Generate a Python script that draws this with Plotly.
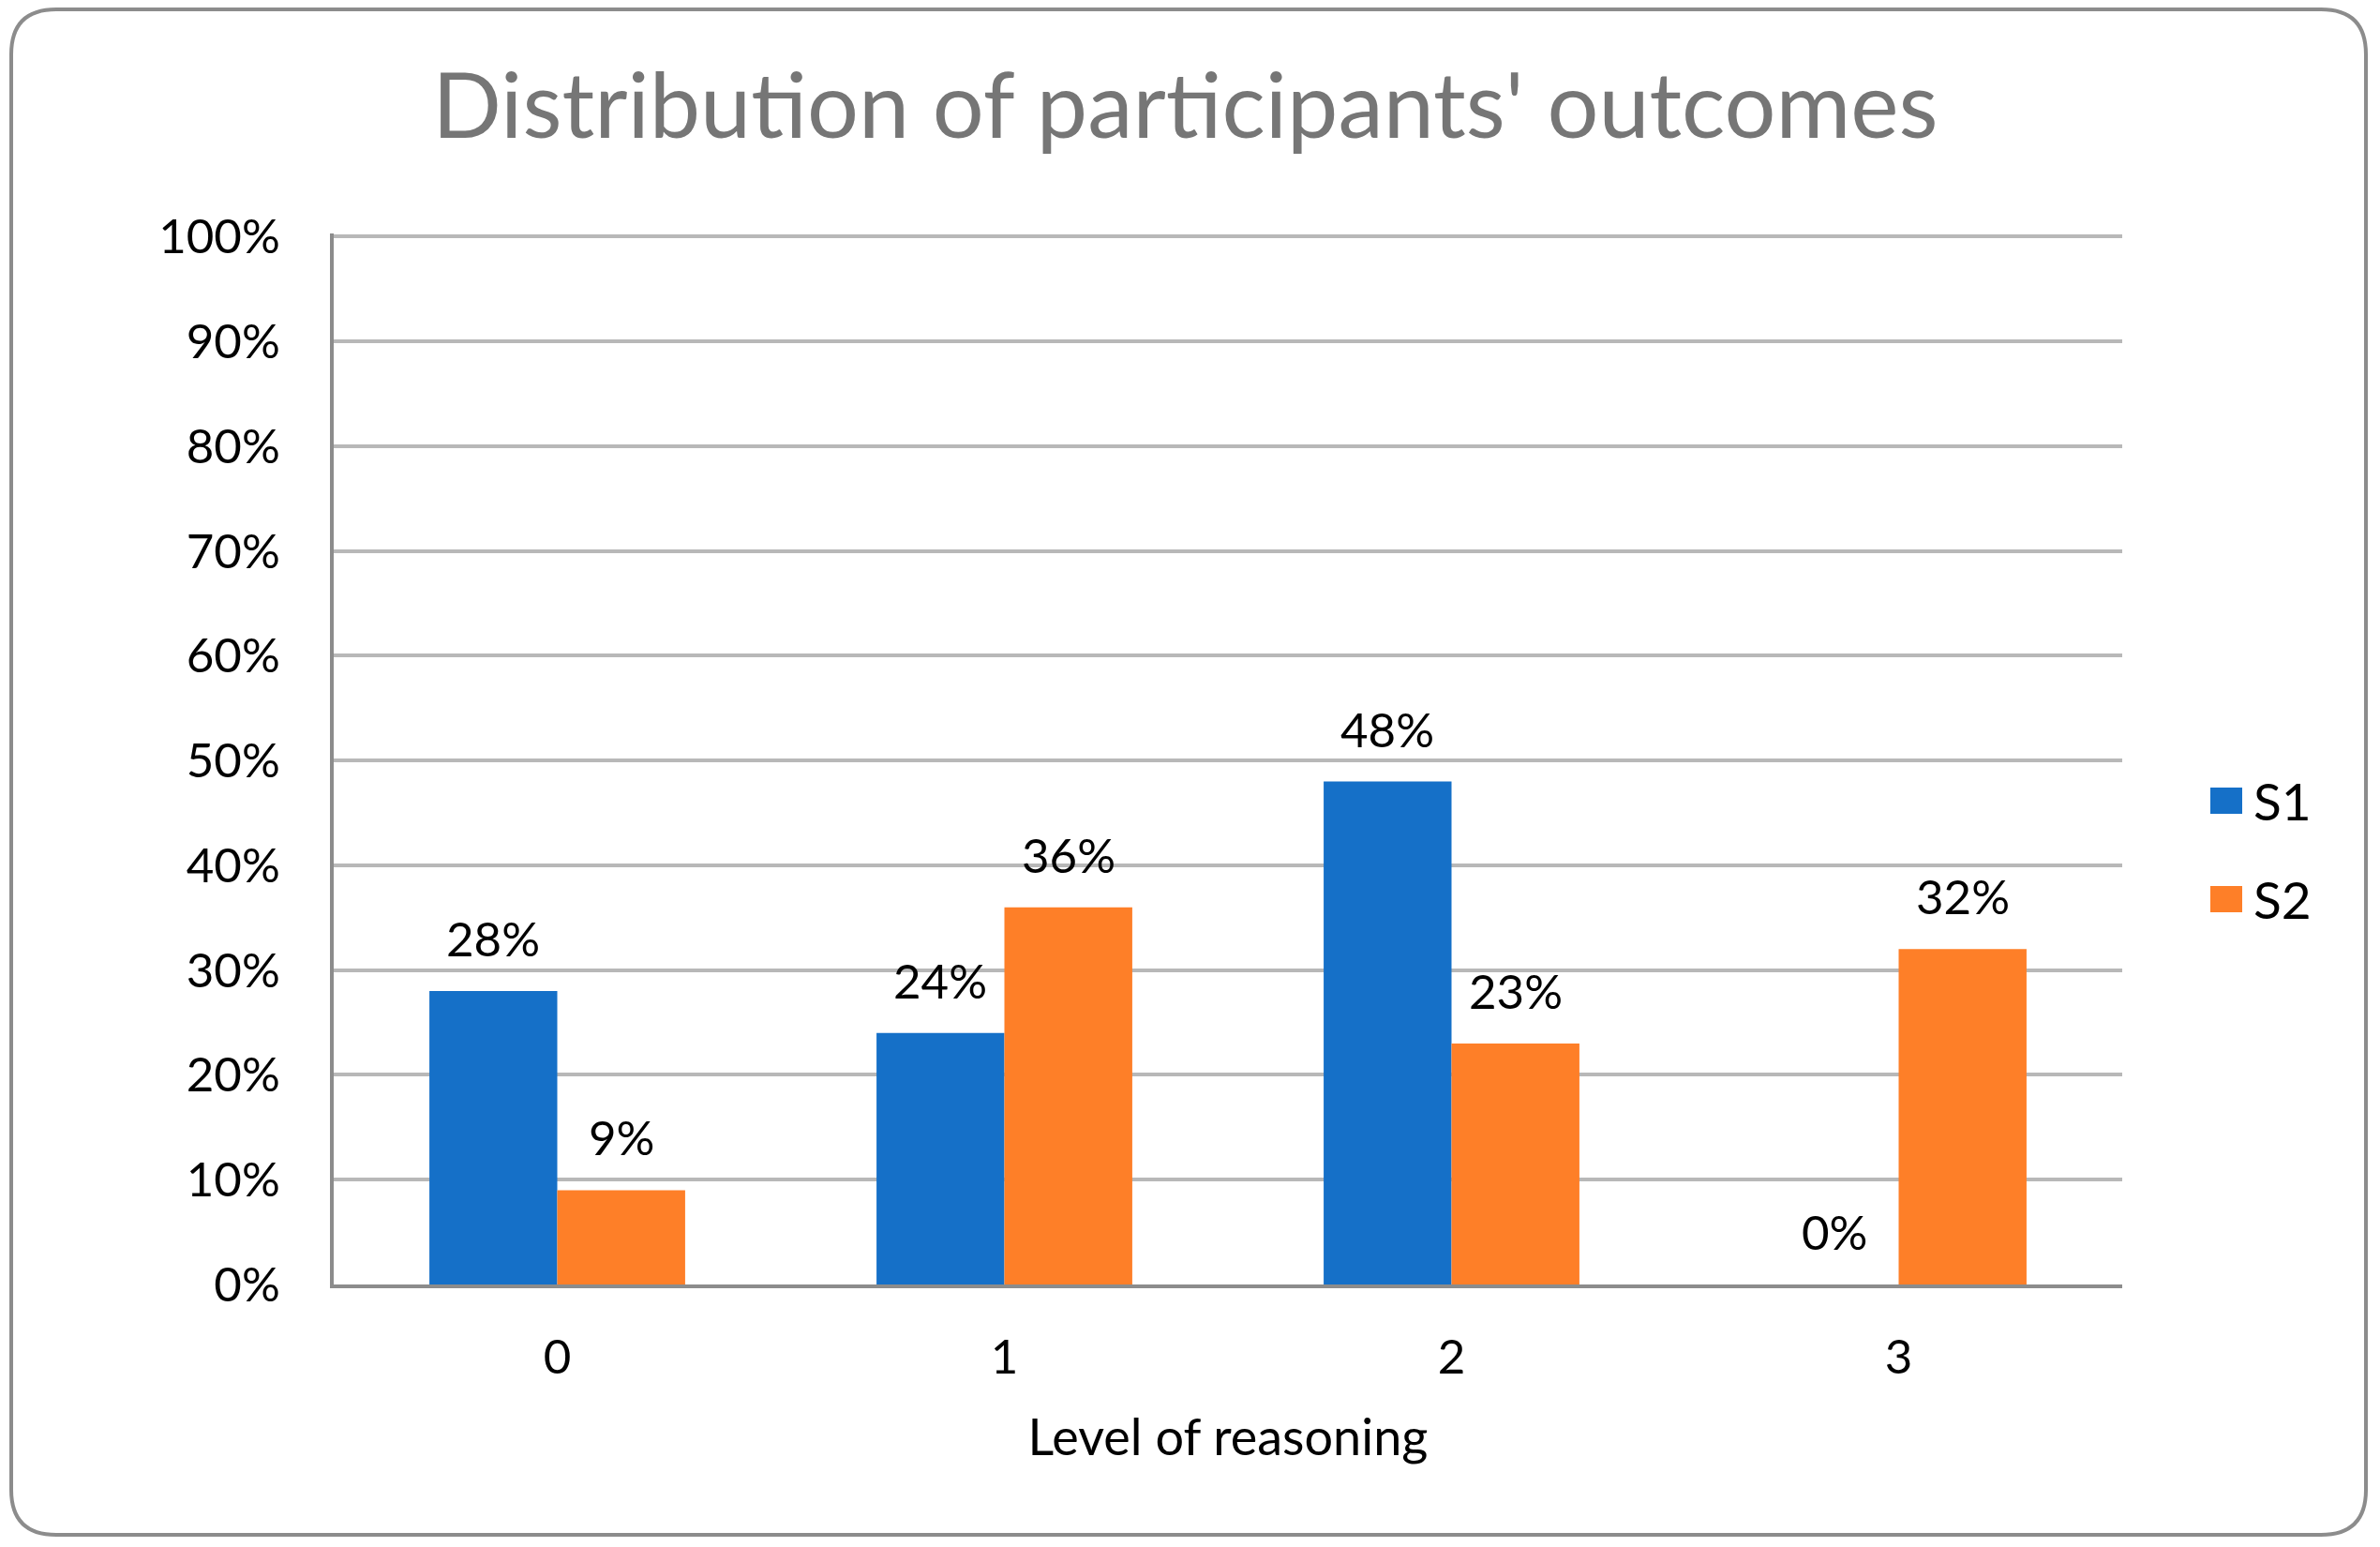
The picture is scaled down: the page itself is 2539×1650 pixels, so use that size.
import plotly.graph_objects as go

# ---- data ----
categories = ["0", "1", "2", "3"]
series_names = ["S1", "S2"]
s1_values = [0.28, 0.24, 0.48, 0.00]
s2_values = [0.09, 0.36, 0.23, 0.32]
y_tick_values = [0, 0.1, 0.2, 0.3, 0.4, 0.5, 0.6, 0.7, 0.8, 0.9, 1.0]
title_text = "Distribution of participants' outcomes"
x_title = "Level of reasoning"

# ---- style ----
W, H = 2539, 1650
ML, MR, MT, MB = 356, 275, 249, 280
PW, PH = W - ML - MR, H - MT - MB
BLUE = "#1570C8"
ORANGE = "#FE7F28"
FONT = "Lato"
BAR_W = 0.286

positions = list(range(len(categories)))

fig = go.Figure()
fig.add_trace(go.Bar(
    x=positions, y=s1_values, name=series_names[0],
    offset=-BAR_W, width=BAR_W, marker=dict(color=BLUE, line=dict(width=0)),
    showlegend=False,
))
fig.add_trace(go.Bar(
    x=positions, y=s2_values, name=series_names[1],
    offset=0, width=BAR_W, marker=dict(color=ORANGE, line=dict(width=0)),
    showlegend=False,
))

annotations = []
for vals, shift in ((s1_values, -BAR_W / 2), (s2_values, BAR_W / 2)):
    for p, v in zip(positions, vals):
        annotations.append(dict(
            x=p + shift, y=v, xref="x", yref="y", text=f"{v:.0%}",
            showarrow=False, yanchor="bottom", yshift=24,
            font=dict(family=FONT, size=51, color="#000000"),
        ))

# manual legend
def px_to_paper_x(px):
    return (px - ML) / PW

def px_to_paper_y(py):
    return (H - MB - py) / PH

shapes = []
legend_rows = [(series_names[0], BLUE, 854), (series_names[1], ORANGE, 959)]
for name, col, cy in legend_rows:
    shapes.append(dict(
        type="rect", xref="paper", yref="paper",
        x0=px_to_paper_x(2358), x1=px_to_paper_x(2392),
        y0=px_to_paper_y(cy - 14), y1=px_to_paper_y(cy + 14),
        fillcolor=col, line=dict(width=0),
    ))
    annotations.append(dict(
        x=px_to_paper_x(2402), y=px_to_paper_y(cy), xref="paper", yref="paper",
        text=name, showarrow=False, xanchor="left", yanchor="middle",
        font=dict(family=FONT, size=55, color="#000000"),
    ))

# rounded outer border
bx0, bx1, by0, by1, r = 12, 2524, 10, 1637, 48
X = px_to_paper_x
Y = px_to_paper_y
path = (
    f"M {X(bx0 + r)},{Y(by0)} L {X(bx1 - r)},{Y(by0)} "
    f"Q {X(bx1)},{Y(by0)} {X(bx1)},{Y(by0 + r)} "
    f"L {X(bx1)},{Y(by1 - r)} Q {X(bx1)},{Y(by1)} {X(bx1 - r)},{Y(by1)} "
    f"L {X(bx0 + r)},{Y(by1)} Q {X(bx0)},{Y(by1)} {X(bx0)},{Y(by1 - r)} "
    f"L {X(bx0)},{Y(by0 + r)} Q {X(bx0)},{Y(by0)} {X(bx0 + r)},{Y(by0)} Z"
)
shapes.append(dict(type="path", xref="paper", yref="paper", path=path,
                   line=dict(color="#8C8C8C", width=4), layer="above"))

fig.update_layout(
    width=W, height=H,
    margin=dict(l=ML, r=MR, t=MT, b=MB),
    paper_bgcolor="white", plot_bgcolor="white",
    barmode="overlay",
    title=dict(text=title_text, x=0.498, xanchor="center", y=1 - 113 / H,
               yanchor="middle", font=dict(family=FONT, size=97, color="#767676")),
    xaxis=dict(
        range=[-0.5, len(categories) - 0.5],
        tickmode="array", tickvals=positions, ticktext=categories,
        showgrid=False, zeroline=False, showline=True,
        linecolor="#8C8C8C", linewidth=4, ticks="",
        ticklabelstandoff=30,
        tickfont=dict(family=FONT, size=51, color="#000000"),
        title=dict(text=x_title, standoff=40,
                   font=dict(family=FONT, size=54, color="#000000")),
    ),
    yaxis=dict(
        range=[0, 1.003], tickmode="array", tickvals=y_tick_values,
        tickformat=".0%", showgrid=True, gridcolor="#B8B8B8", gridwidth=4,
        zeroline=False, showline=True, linecolor="#8C8C8C", linewidth=4,
        ticks="", ticklabelstandoff=43,
        tickfont=dict(family=FONT, size=51, color="#000000"),
    ),
    font=dict(family=FONT),
    annotations=annotations,
    shapes=shapes,
)

fig.write_html(
    "out.html",
    config={"displayModeBar": False},
    post_script="document.body.style.margin='0';document.body.style.overflow='hidden';",
)
